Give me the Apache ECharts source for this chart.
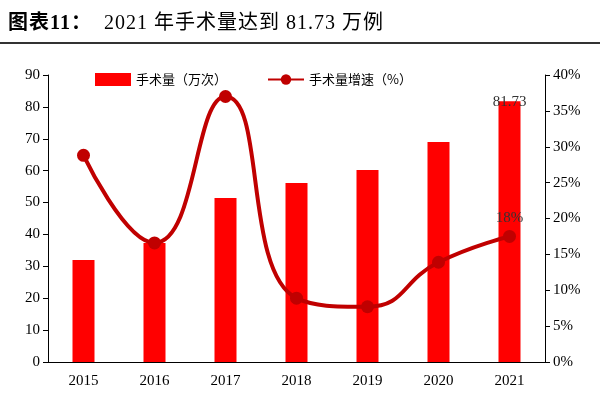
<!DOCTYPE html>
<html>
<head>
<meta charset="utf-8">
<script src="https://cdn.jsdelivr.net/npm/echarts@6/dist/echarts.min.js"></script>
<style>
body{margin:0;background:#fff}
#title{position:absolute;left:8px;top:6px;font-size:20px;font-family:"Liberation Serif","Noto Sans CJK SC";color:#000;letter-spacing:1px}
#line{position:absolute;left:0;top:42px;width:600px;height:2px;background:#333}
#chart{position:absolute;left:0;top:0;width:600px;height:400px}
</style>
</head>
<body>
<div id="chart"></div>
<div id="title"><b>图表11：</b>&nbsp;&nbsp;2021 年手术量达到 81.73 万例</div>
<div id="line"></div>
<script>
var years = ['2015','2016','2017','2018','2019','2020','2021']
var volume = [32, 37.3, 51.4, 56.1, 60.2, 69, 81.73]
var growth = [28.8, 16.6, 37, 8.9, 7.7, 13.9, 17.5]

var myChart = echarts.init(document.getElementById('chart'))
var font = {fontFamily:'Liberation Serif', fontSize:15, color:'#000'}
option = {
    animation:false,
    grid:{left:48,right:55,top:75,bottom:38},
    legend:{
        top:68, left:90, itemGap:40,
        textStyle:{fontFamily:'Noto Sans CJK SC', fontSize:13, color:'#000'},
        data:[{name:'手术量（万次）',icon:'rect'},{name:'手术量增速（%）'}],
        itemWidth:36, itemHeight:13
    },
    xAxis:{
        type:'category', data:years,
        axisLine:{lineStyle:{color:'#000'}},
        axisTick:{show:false},
        axisLabel:Object.assign({margin:12}, font)
    },
    yAxis:[{
        type:'value', min:0, max:90, interval:10,
        axisLine:{show:true,lineStyle:{color:'#000'}},
        axisTick:{show:true},
        splitLine:{show:false},
        axisLabel:font
    },{
        type:'value', min:0, max:40, interval:5,
        axisLine:{show:true,lineStyle:{color:'#000'}},
        axisTick:{show:true},
        splitLine:{show:false},
        axisLabel:Object.assign({formatter:'{value}%'}, font)
    }],
    series:[{
        name:'手术量（万次）', type:'bar', data:volume, barWidth:22,
        itemStyle:{color:'#ff0000'},
        label:{show:true, position:'top', distance:-8, fontFamily:'Liberation Serif', fontSize:15, color:'#333',
            formatter:function(p){return p.dataIndex==6 ? '81.73' : ''}}
    },{
        name:'手术量增速（%）', type:'line', yAxisIndex:1, data:growth, smooth:0.5,
        symbol:'circle', symbolSize:13,
        lineStyle:{color:'#c00000', width:4},
        itemStyle:{color:'#c00000'},
        label:{show:true, position:'top', distance:4, fontFamily:'Liberation Serif', fontSize:15, color:'#333',
            formatter:function(p){return p.dataIndex==6 ? '18%' : ''}}
    }]
}
option && myChart.setOption(option)
</script>
</body>
</html>
